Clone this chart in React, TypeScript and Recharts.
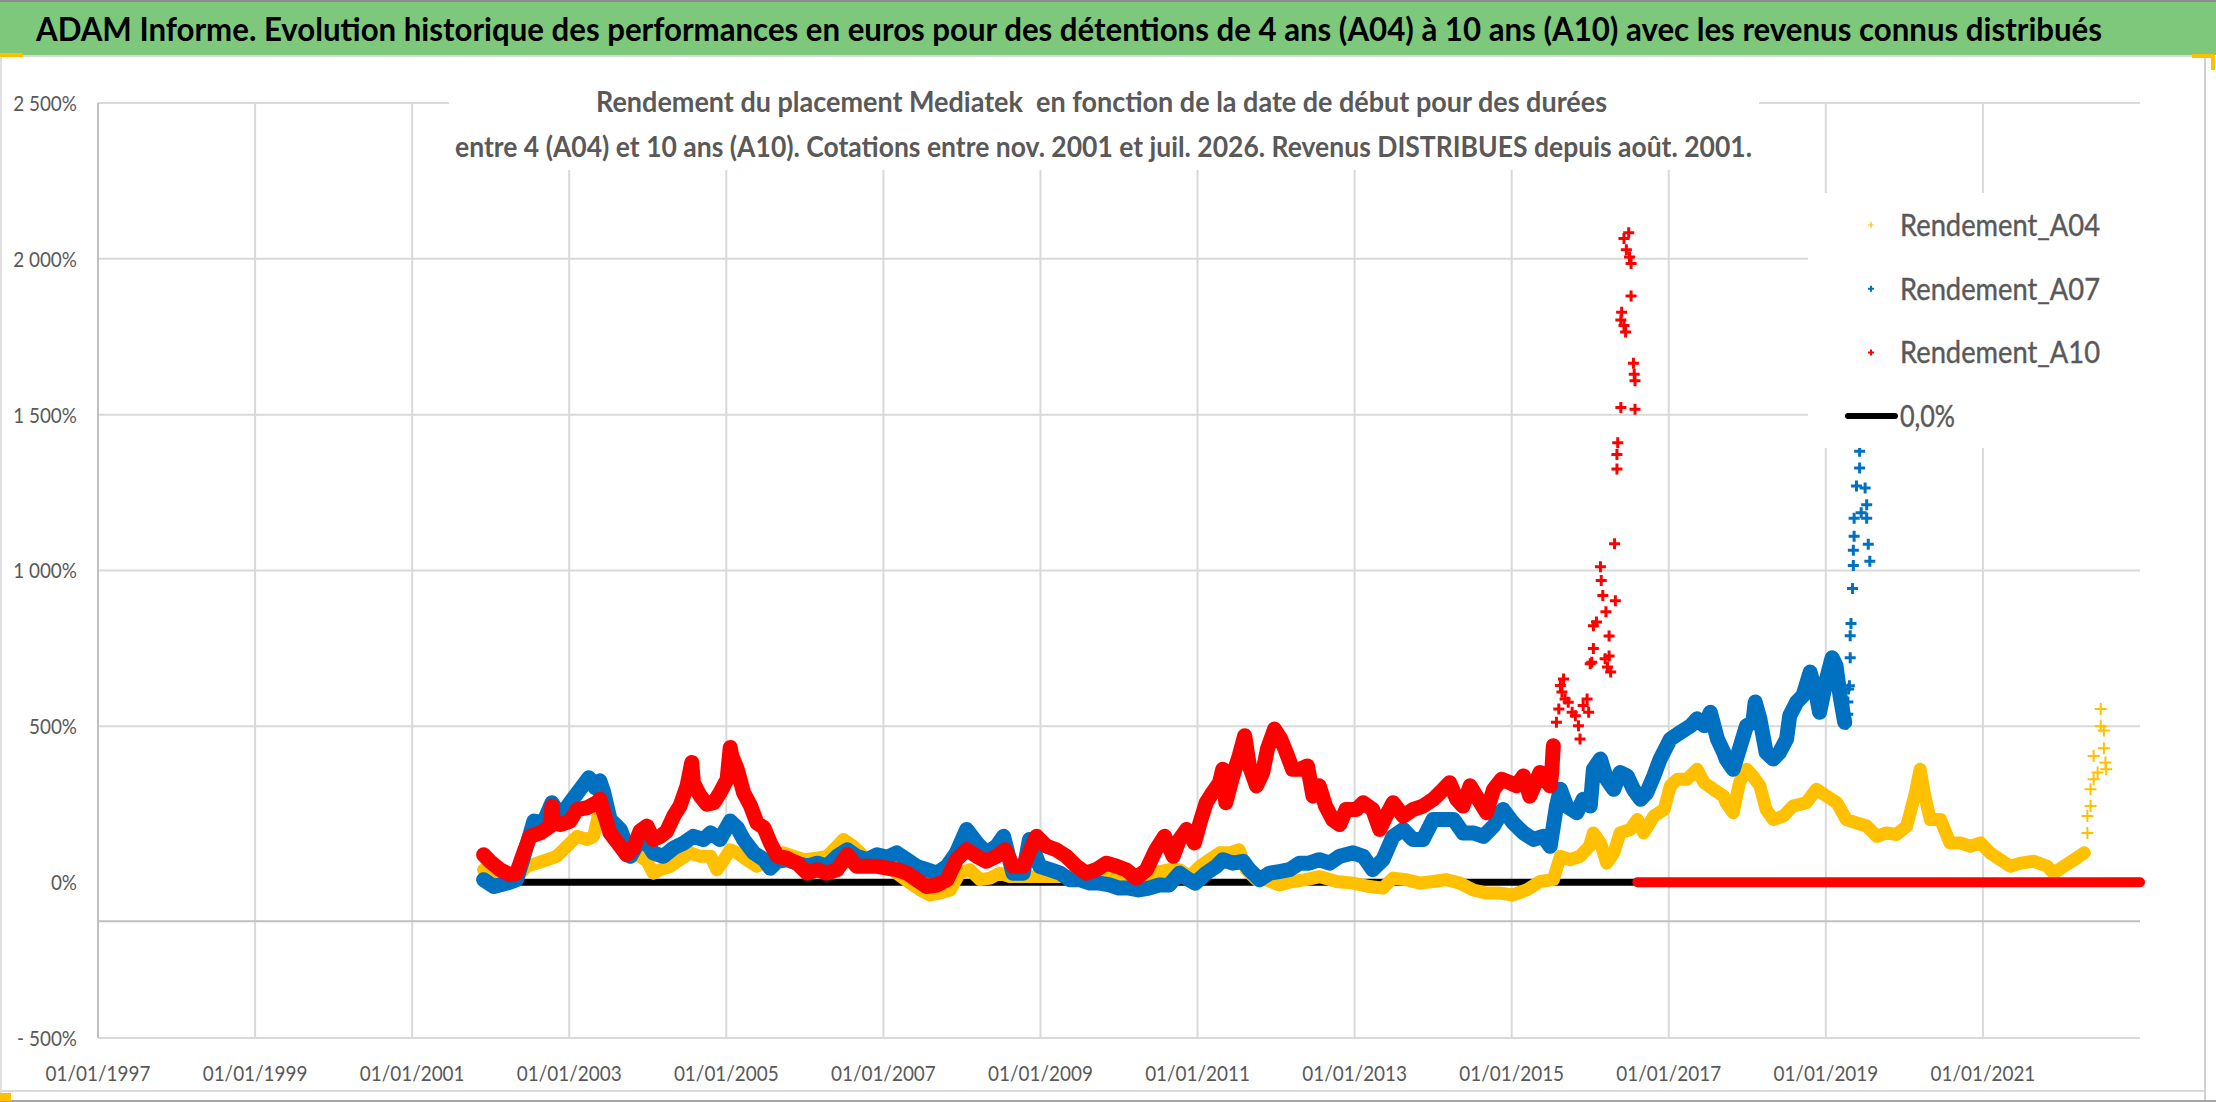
import {
  CartesianGrid,
  ComposedChart,
  Legend,
  ReferenceLine,
  Scatter,
  XAxis,
  YAxis,
} from "recharts";

const W = 2216;
const H = 1102;

const YEL = "#FFC000";
const BLU = "#0070C0";
const RED = "#FF0000";
const GREY = "#595959";
const FONT = "Lato, 'Open Sans', sans-serif";

const yearTicks = [1997, 1999, 2001, 2003, 2005, 2007, 2009, 2011, 2013, 2015, 2017, 2019, 2021];
const pctTicks = [-500, 0, 500, 1000, 1500, 2000, 2500];
const gridPct = [-500, 500, 1000, 1500, 2000, 2500];

type Pt = [number, number];

// Rendement_A04 (4 ans), dates as decimal years, values in %
const a04Band: Pt[] = [
  [2001.91, 40], [2002.04, 29], [2002.21, 24], [2002.38, 29], [2002.46, 51], [2002.59, 61], [2002.72, 72],
  [2002.84, 83], [2002.97, 115], [2003.1, 147], [2003.23, 137], [2003.31, 147], [2003.37, 212], [2003.44, 185],
  [2003.52, 169], [2003.65, 147], [2003.78, 126], [2003.9, 83], [2003.99, 67], [2004.07, 29], [2004.16, 40],
  [2004.29, 51], [2004.41, 72], [2004.54, 94], [2004.67, 83], [2004.8, 83], [2004.88, 40], [2004.97, 72],
  [2005.05, 104], [2005.14, 94], [2005.26, 72], [2005.39, 51], [2005.56, 72], [2005.73, 94], [2005.86, 83],
  [2005.99, 72], [2006.16, 77], [2006.28, 83], [2006.41, 115], [2006.49, 137], [2006.62, 115], [2006.75, 83],
  [2006.88, 72], [2007.05, 51], [2007.17, 29], [2007.34, -3], [2007.47, -25], [2007.59, -41], [2007.72, -35],
  [2007.85, -25], [2007.97, 29], [2008.1, 40], [2008.23, 8], [2008.36, 13], [2008.48, 29], [2008.61, 18],
  [2008.8, 18], [2009.0, 18], [2009.3, 18], [2009.5, 18], [2009.84, 18], [2010.01, 13], [2010.18, 8],
  [2010.35, 13], [2010.52, 34], [2010.64, 40], [2010.77, 40], [2010.9, 18], [2011.03, 51], [2011.15, 72],
  [2011.28, 94], [2011.41, 94], [2011.53, 104], [2011.62, 40], [2011.75, 8], [2011.87, 8], [2012.04, -9],
  [2012.21, 2], [2012.38, 8], [2012.55, 18], [2012.77, 2], [2012.98, -3], [2013.19, -14], [2013.36, -19],
  [2013.49, 13], [2013.66, 8], [2013.83, -3], [2014.0, 2], [2014.17, 8], [2014.34, -3], [2014.51, -25],
  [2014.68, -35], [2014.85, -35], [2015.02, -41], [2015.19, -25], [2015.36, 2], [2015.53, 8], [2015.62, 83],
  [2015.74, 72], [2015.87, 83], [2015.99, 115], [2016.04, 158], [2016.13, 126], [2016.21, 61], [2016.3, 94],
  [2016.38, 158], [2016.51, 169], [2016.6, 201], [2016.68, 158], [2016.81, 212], [2016.94, 233], [2017.02, 309],
  [2017.11, 330], [2017.23, 330], [2017.36, 362], [2017.45, 319], [2017.57, 298], [2017.7, 276], [2017.73, 255],
  [2017.82, 223], [2017.9, 319], [2017.99, 362], [2018.07, 341], [2018.16, 309], [2018.24, 233], [2018.33, 201],
  [2018.46, 212], [2018.58, 244], [2018.75, 255], [2018.88, 298], [2019.01, 276], [2019.14, 255], [2019.26, 201],
  [2019.39, 190], [2019.52, 180], [2019.65, 147], [2019.77, 158], [2019.9, 153], [2020.03, 180], [2020.14, 287],
  [2020.2, 362], [2020.26, 276], [2020.33, 201], [2020.46, 201], [2020.58, 126], [2020.71, 126], [2020.84, 115],
  [2020.97, 126], [2021.09, 94], [2021.22, 72], [2021.35, 51], [2021.48, 61], [2021.65, 67], [2021.82, 51],
  [2021.9, 29], [2022.03, 51], [2022.16, 72], [2022.29, 94],
];
const a04Spike: Pt[] = [
  [2022.33, 158], [2022.33, 212], [2022.37, 244], [2022.37, 298], [2022.41, 330], [2022.41, 405], [2022.46, 352],
  [2022.5, 500], [2022.5, 556], [2022.54, 430], [2022.54, 487], [2022.56, 384], [2022.57, 362],
];
const a04Zero: Pt[] = [[2022.62, 0], [2022.8, 0], [2023, 0]];

// Rendement_A07 (7 ans)
const a07Band: Pt[] = [
  [2001.91, 8], [2002.04, -14], [2002.21, -3], [2002.33, 8], [2002.42, 83], [2002.55, 196], [2002.67, 190],
  [2002.78, 255], [2002.89, 212], [2003.01, 255], [2003.14, 298], [2003.25, 335], [2003.33, 303], [2003.39, 325],
  [2003.44, 287], [2003.52, 201], [2003.65, 169], [2003.78, 83], [2003.9, 137], [2003.99, 126], [2004.07, 94],
  [2004.2, 83], [2004.33, 110], [2004.46, 126], [2004.58, 147], [2004.71, 137], [2004.8, 158], [2004.92, 137],
  [2005.05, 196], [2005.14, 174], [2005.22, 137], [2005.35, 94], [2005.48, 72], [2005.56, 45], [2005.65, 67],
  [2005.77, 72], [2005.9, 61], [2006.03, 51], [2006.16, 61], [2006.28, 51], [2006.41, 83], [2006.54, 104],
  [2006.66, 83], [2006.79, 72], [2006.92, 88], [2007.05, 80], [2007.17, 94], [2007.3, 72], [2007.42, 51],
  [2007.55, 40], [2007.68, 29], [2007.81, 51], [2007.93, 94], [2008.06, 169], [2008.19, 126], [2008.31, 94],
  [2008.44, 115], [2008.53, 147], [2008.65, 29], [2008.78, 29], [2008.86, 137], [2008.99, 51], [2009.12, 40],
  [2009.25, 29], [2009.37, 8], [2009.5, 8], [2009.63, -3], [2009.75, -3], [2009.88, -9], [2010.0, -19],
  [2010.13, -19], [2010.25, -25], [2010.38, -19], [2010.51, -9], [2010.64, -9], [2010.77, 29], [2010.89, 8],
  [2010.97, -3], [2011.11, 29], [2011.24, 51], [2011.32, 72], [2011.45, 61], [2011.58, 67], [2011.66, 40],
  [2011.79, 8], [2011.92, 29], [2012.04, 34], [2012.17, 40], [2012.3, 61], [2012.42, 61], [2012.55, 72],
  [2012.68, 61], [2012.81, 83], [2012.98, 94], [2013.11, 83], [2013.23, 40], [2013.36, 72], [2013.49, 147],
  [2013.62, 169], [2013.74, 137], [2013.87, 137], [2014.0, 201], [2014.13, 201], [2014.26, 201], [2014.38, 158],
  [2014.51, 158], [2014.64, 147], [2014.77, 180], [2014.89, 233], [2015.02, 190], [2015.15, 158], [2015.28, 137],
  [2015.4, 147], [2015.49, 115], [2015.57, 244], [2015.62, 298], [2015.7, 244], [2015.83, 223], [2015.91, 266],
  [2016.0, 244], [2016.04, 362], [2016.13, 395], [2016.21, 330], [2016.3, 298], [2016.38, 352], [2016.47, 341],
  [2016.55, 298], [2016.64, 266], [2016.72, 287], [2016.81, 341], [2016.89, 395], [2017.02, 459], [2017.15, 481],
  [2017.28, 502], [2017.36, 524], [2017.45, 502], [2017.53, 545], [2017.62, 459], [2017.7, 416], [2017.73, 395],
  [2017.82, 362], [2017.9, 427], [2017.99, 502], [2018.07, 513], [2018.1, 578], [2018.16, 524], [2018.24, 416],
  [2018.33, 395], [2018.41, 416], [2018.5, 459], [2018.54, 534], [2018.63, 578], [2018.71, 599], [2018.8, 674],
  [2018.88, 599], [2018.92, 545], [2019.01, 653], [2019.08, 720], [2019.13, 694], [2019.18, 599], [2019.24, 513],
];
const a07Spike: Pt[] = [
  [2019.26, 507], [2019.28, 539], [2019.28, 578], [2019.29, 620], [2019.3, 630], [2019.31, 720], [2019.31, 791],
  [2019.32, 830], [2019.34, 942], [2019.35, 1016], [2019.35, 1065], [2019.36, 1110], [2019.36, 1168],
  [2019.39, 1271], [2019.43, 1329], [2019.43, 1383], [2019.45, 1185], [2019.5, 1265], [2019.52, 1211],
  [2019.52, 1168], [2019.54, 1084], [2019.56, 1030],
];
const a07Zero: Pt[] = [[2019.6, 0], [2021, 0], [2023, 0]];

// Rendement_A10 (10 ans)
const a10Band: Pt[] = [
  [2001.91, 88], [2001.99, 67], [2002.12, 40], [2002.25, 24], [2002.33, 29], [2002.42, 94], [2002.5, 147],
  [2002.63, 158], [2002.76, 180], [2002.78, 244], [2002.8, 190], [2002.89, 185], [2003.01, 196], [2003.1, 233],
  [2003.23, 239], [2003.35, 255], [2003.39, 266], [2003.44, 223], [2003.52, 158], [2003.65, 115], [2003.73, 88],
  [2003.82, 110], [2003.9, 163], [2003.99, 180], [2004.07, 137], [2004.16, 147], [2004.24, 163], [2004.33, 212],
  [2004.41, 244], [2004.5, 309], [2004.56, 384], [2004.58, 319], [2004.67, 276], [2004.75, 250], [2004.84, 255],
  [2004.92, 287], [2005.01, 330], [2005.05, 432], [2005.07, 405], [2005.14, 362], [2005.22, 287], [2005.31, 244],
  [2005.39, 190], [2005.48, 174], [2005.56, 126], [2005.65, 83], [2005.77, 77], [2005.9, 61], [2006.03, 29],
  [2006.16, 40], [2006.28, 29], [2006.41, 40], [2006.54, 88], [2006.66, 51], [2006.79, 51], [2006.92, 51],
  [2007.05, 45], [2007.17, 40], [2007.3, 29], [2007.42, 8], [2007.55, -14], [2007.68, -9], [2007.81, 8],
  [2007.93, 72], [2008.06, 104], [2008.19, 83], [2008.31, 67], [2008.44, 83], [2008.55, 104], [2008.65, 51],
  [2008.78, 51], [2008.91, 126], [2008.95, 147], [2009.08, 115], [2009.2, 104], [2009.33, 83], [2009.46, 51],
  [2009.58, 29], [2009.71, 40], [2009.84, 61], [2009.97, 51], [2010.09, 40], [2010.22, 13], [2010.35, 40],
  [2010.47, 104], [2010.58, 147], [2010.69, 83], [2010.77, 137], [2010.86, 169], [2010.96, 126], [2011.03, 190],
  [2011.11, 255], [2011.19, 287], [2011.28, 319], [2011.32, 362], [2011.36, 255], [2011.45, 341], [2011.53, 405],
  [2011.6, 470], [2011.66, 373], [2011.75, 309], [2011.83, 352], [2011.89, 427], [2011.98, 491], [2012.06, 459],
  [2012.13, 416], [2012.21, 362], [2012.3, 362], [2012.4, 373], [2012.47, 276], [2012.55, 309], [2012.63, 244],
  [2012.72, 201], [2012.81, 185], [2012.89, 233], [2013.02, 233], [2013.11, 255], [2013.23, 233], [2013.32, 169],
  [2013.4, 212], [2013.49, 255], [2013.62, 212], [2013.74, 233], [2013.87, 244], [2014.0, 266], [2014.13, 298],
  [2014.21, 319], [2014.3, 266], [2014.38, 244], [2014.47, 309], [2014.55, 276], [2014.68, 223], [2014.77, 298],
  [2014.87, 330], [2014.98, 319], [2015.06, 309], [2015.15, 341], [2015.23, 276], [2015.36, 352], [2015.49, 309],
  [2015.51, 352], [2015.53, 438],
];
const a10Spike: Pt[] = [
  [2015.57, 513], [2015.6, 556], [2015.62, 631], [2015.64, 610], [2015.66, 652], [2015.68, 588], [2015.72, 577],
  [2015.77, 545], [2015.81, 534], [2015.85, 502], [2015.87, 459], [2015.91, 567], [2015.96, 588], [2015.98, 545],
  [2016.0, 701], [2016.02, 706], [2016.04, 750], [2016.04, 823], [2016.08, 835], [2016.13, 1012], [2016.14, 968],
  [2016.16, 920], [2016.19, 717], [2016.2, 868], [2016.22, 690], [2016.24, 790], [2016.24, 726], [2016.26, 674],
  [2016.31, 1086], [2016.32, 903], [2016.34, 1326], [2016.34, 1372], [2016.35, 1410], [2016.39, 1523],
  [2016.39, 1804], [2016.4, 1829], [2016.43, 1786], [2016.43, 2065], [2016.45, 1765], [2016.46, 2029],
  [2016.49, 2084], [2016.5, 2006], [2016.52, 1985], [2016.52, 1881], [2016.55, 1665], [2016.56, 1630],
  [2016.57, 1609], [2016.57, 1517],
];
const a10Zero: Pt[] = [[2016.6, 0], [2018, 0], [2020, 0], [2022, 0], [2023, 0]];

// 0,0% reference series
const zeroLine: Pt[] = [[2001.91, 0], [2023, 0]];

const legendItems = [
  { name: "Rendement_A04", color: YEL, kind: "cross", thin: true, width: 200 },
  { name: "Rendement_A07", color: BLU, kind: "cross", thin: false, width: 200 },
  { name: "Rendement_A10", color: RED, kind: "cross", thin: false, width: 200 },
  { name: "0,0%", color: "#000000", kind: "line", thin: false, width: 55 },
];

const pts = (a: Pt[]) => a.map(([x, y]) => ({ x, y }));

const cross = (color: string, r: number, w: number) => (p: any) =>
  p.cx == null ? <g /> : (
    <path
      d={`M${p.cx - r},${p.cy}h${2 * r}M${p.cx},${p.cy - r}v${2 * r}`}
      stroke={color}
      strokeWidth={w}
      fill="none"
    />
  );

const noDot = () => <g />;

const band = (color: string, w: number) => ({
  stroke: color,
  strokeWidth: w,
  strokeLinejoin: "round",
  strokeLinecap: "round",
  fill: "none",
});

const fmtPct = (v: number) => {
  const s = String(Math.abs(v));
  const body = s.length > 3 ? `${s.slice(0, -3)} ${s.slice(-3)}` : s;
  return `${v < 0 ? "- " : ""}${body}%`;
};

const squeeze = (x: number, k: number) => `translate(${x},0) scale(${k},1) translate(${-x},0)`;

function XTick(p: any) {
  return (
    <text
      x={p.x}
      y={p.y}
      dy={43}
      textAnchor="middle"
      fill={GREY}
      fontSize={22}
      fontFamily={FONT}
      transform={squeeze(p.x, 0.86)}
    >
      {`01/01/${p.payload.value}`}
    </text>
  );
}

function YTick(p: any) {
  const x = p.x - 21;
  return (
    <text
      x={x}
      y={p.y}
      dy={8}
      textAnchor="end"
      fill={GREY}
      fontSize={22}
      fontFamily={FONT}
      transform={squeeze(x, 0.86)}
    >
      {fmtPct(p.payload.value)}
    </text>
  );
}

function LegendBox() {
  return (
    <svg width={332} height={255} style={{ display: "block" }}>
      <rect x={0} y={0} width={332} height={255} fill="#ffffff" />
      {legendItems.map((it, i) => {
        const cy = 32 + i * 63.7;
        return (
          <g key={it.name}>
            {it.kind === "line" ? (
              <line x1={40} x2={87} y1={cy} y2={cy} stroke={it.color} strokeWidth={6} strokeLinecap="round" />
            ) : (
              <path
                d={`M${60},${cy}h6M${63},${cy - 3}v6`}
                stroke={it.color}
                strokeWidth={it.thin ? 1.2 : 2}
                fill="none"
              />
            )}
            <text
              x={92}
              y={cy + 11}
              fontSize={30}
              fontFamily={FONT}
              fill={GREY}
              stroke={GREY}
              strokeWidth={0.4}
              textLength={it.width}
              lengthAdjust="spacingAndGlyphs"
            >
              {it.name}
            </text>
          </g>
        );
      })}
    </svg>
  );
}

const TITLE =
  "ADAM Informe. Evolution historique des performances en euros pour des détentions de 4 ans (A04) à 10 ans (A10) avec les revenus connus distribués";
const SUB1 = "Rendement du placement Mediatek  en fonction de la date de début pour des durées";
const SUB2 =
  "entre 4 (A04) et 10 ans (A10). Cotations entre nov. 2001 et juil. 2026. Revenus DISTRIBUES depuis août. 2001.";

export default function App() {
  return (
    <div style={{ position: "relative", width: W, height: H, background: "#ffffff" }}>
      <style>{"body{margin:0}"}</style>
      <ComposedChart width={W} height={H} margin={{ top: 103, right: 76, bottom: 0, left: 0 }}>
        <CartesianGrid
          stroke="#d9d9d9"
          strokeWidth={2}
          horizontalValues={gridPct}
          verticalValues={yearTicks.slice(1)}
        />
        <XAxis
          dataKey="x"
          type="number"
          domain={[1997, 2023]}
          ticks={yearTicks}
          interval={0}
          axisLine={false}
          tickLine={false}
          tickSize={0}
          tickMargin={0}
          height={64}
          tick={<XTick />}
        />
        <YAxis
          dataKey="y"
          type="number"
          domain={[-500, 2500]}
          ticks={pctTicks}
          interval={0}
          width={98}
          axisLine={{ stroke: "#bfbfbf", strokeWidth: 2 }}
          tickLine={false}
          tickSize={0}
          tickMargin={0}
          tick={<YTick />}
        />
        <ReferenceLine y={-125} stroke="#bfbfbf" strokeWidth={2} />

        <Scatter name="0,0%" data={pts(zeroLine)} line={band("#000000", 7)} shape={noDot} isAnimationActive={false} />

        <Scatter name="Rendement_A04" data={pts(a04Band)} line={band(YEL, 13)} shape={cross(YEL, 6, 1.6)} isAnimationActive={false} />
        <Scatter data={pts(a04Spike)} shape={cross(YEL, 6, 2)} legendType="none" isAnimationActive={false} />
        <Scatter data={pts(a04Zero)} line={band(YEL, 9)} shape={noDot} legendType="none" isAnimationActive={false} />

        <Scatter name="Rendement_A07" data={pts(a07Band)} line={band(BLU, 15)} shape={cross(BLU, 5, 2.4)} isAnimationActive={false} />
        <Scatter data={pts(a07Spike)} shape={cross(BLU, 5.5, 3)} legendType="none" isAnimationActive={false} />
        <Scatter data={pts(a07Zero)} line={band(BLU, 8)} shape={noDot} legendType="none" isAnimationActive={false} />

        <Scatter name="Rendement_A10" data={pts(a10Band)} line={band(RED, 15)} shape={cross(RED, 5, 2.4)} isAnimationActive={false} />
        <Scatter data={pts(a10Spike)} shape={cross(RED, 5.5, 3)} legendType="none" isAnimationActive={false} />
        <Scatter data={pts(a10Zero)} line={band(RED, 10)} shape={noDot} legendType="none" isAnimationActive={false} />

        <Legend
          layout="vertical"
          align="center"
          verticalAlign="middle"
          content={() => <LegendBox />}
          wrapperStyle={{ left: 1808, top: 193, width: 332, height: 255 }}
        />
      </ComposedChart>

      <svg
        width={W}
        height={H}
        style={{ position: "absolute", left: 0, top: 0, pointerEvents: "none" }}
      >
        <rect x={0} y={0} width={W} height={55} fill="#7ec87c" />
        <line x1={0} x2={W} y1={1} y2={1} stroke="#8c8c8c" strokeWidth={2} />
        <line x1={0} x2={2205} y1={56} y2={56} stroke="#d9d9d9" strokeWidth={2} />
        <text
          x={36}
          y={41}
          fontSize={32}
          fontWeight={700}
          fontFamily={FONT}
          fill="#000000"
          textLength={2066}
          lengthAdjust="spacingAndGlyphs"
        >
          {TITLE}
        </text>

        <rect x={449} y={80} width={1310} height={90} fill="#ffffff" />
        <text
          x={596}
          y={112}
          fontSize={28}
          fontWeight={700}
          fontFamily={FONT}
          fill={GREY}
          textLength={1011}
          lengthAdjust="spacingAndGlyphs"
          style={{ whiteSpace: "pre" }}
        >
          {SUB1}
        </text>
        <text
          x={455}
          y={157}
          fontSize={28}
          fontWeight={700}
          fontFamily={FONT}
          fill={GREY}
          textLength={1297}
          lengthAdjust="spacingAndGlyphs"
        >
          {SUB2}
        </text>

        <line x1={2205} x2={2205} y1={57} y2={H} stroke="#d0d0d0" strokeWidth={2} />
        <line x1={1} x2={1} y1={57} y2={H} stroke="#e0e0e0" strokeWidth={2} />
        <line x1={0} x2={2205} y1={1091} y2={1091} stroke="#d9d9d9" strokeWidth={2} />
        <line x1={0} x2={W} y1={1101} y2={1101} stroke="#a6a6a6" strokeWidth={2} />
        <path d="M2192,54h23v16h-4v-12h-19z" fill="#FFC000" />
        <rect x={0} y={53} width={23} height={4} fill="#FFC000" />
        <rect x={0} y={1093} width={11} height={8} fill="#FFC000" />
      </svg>
    </div>
  );
}
